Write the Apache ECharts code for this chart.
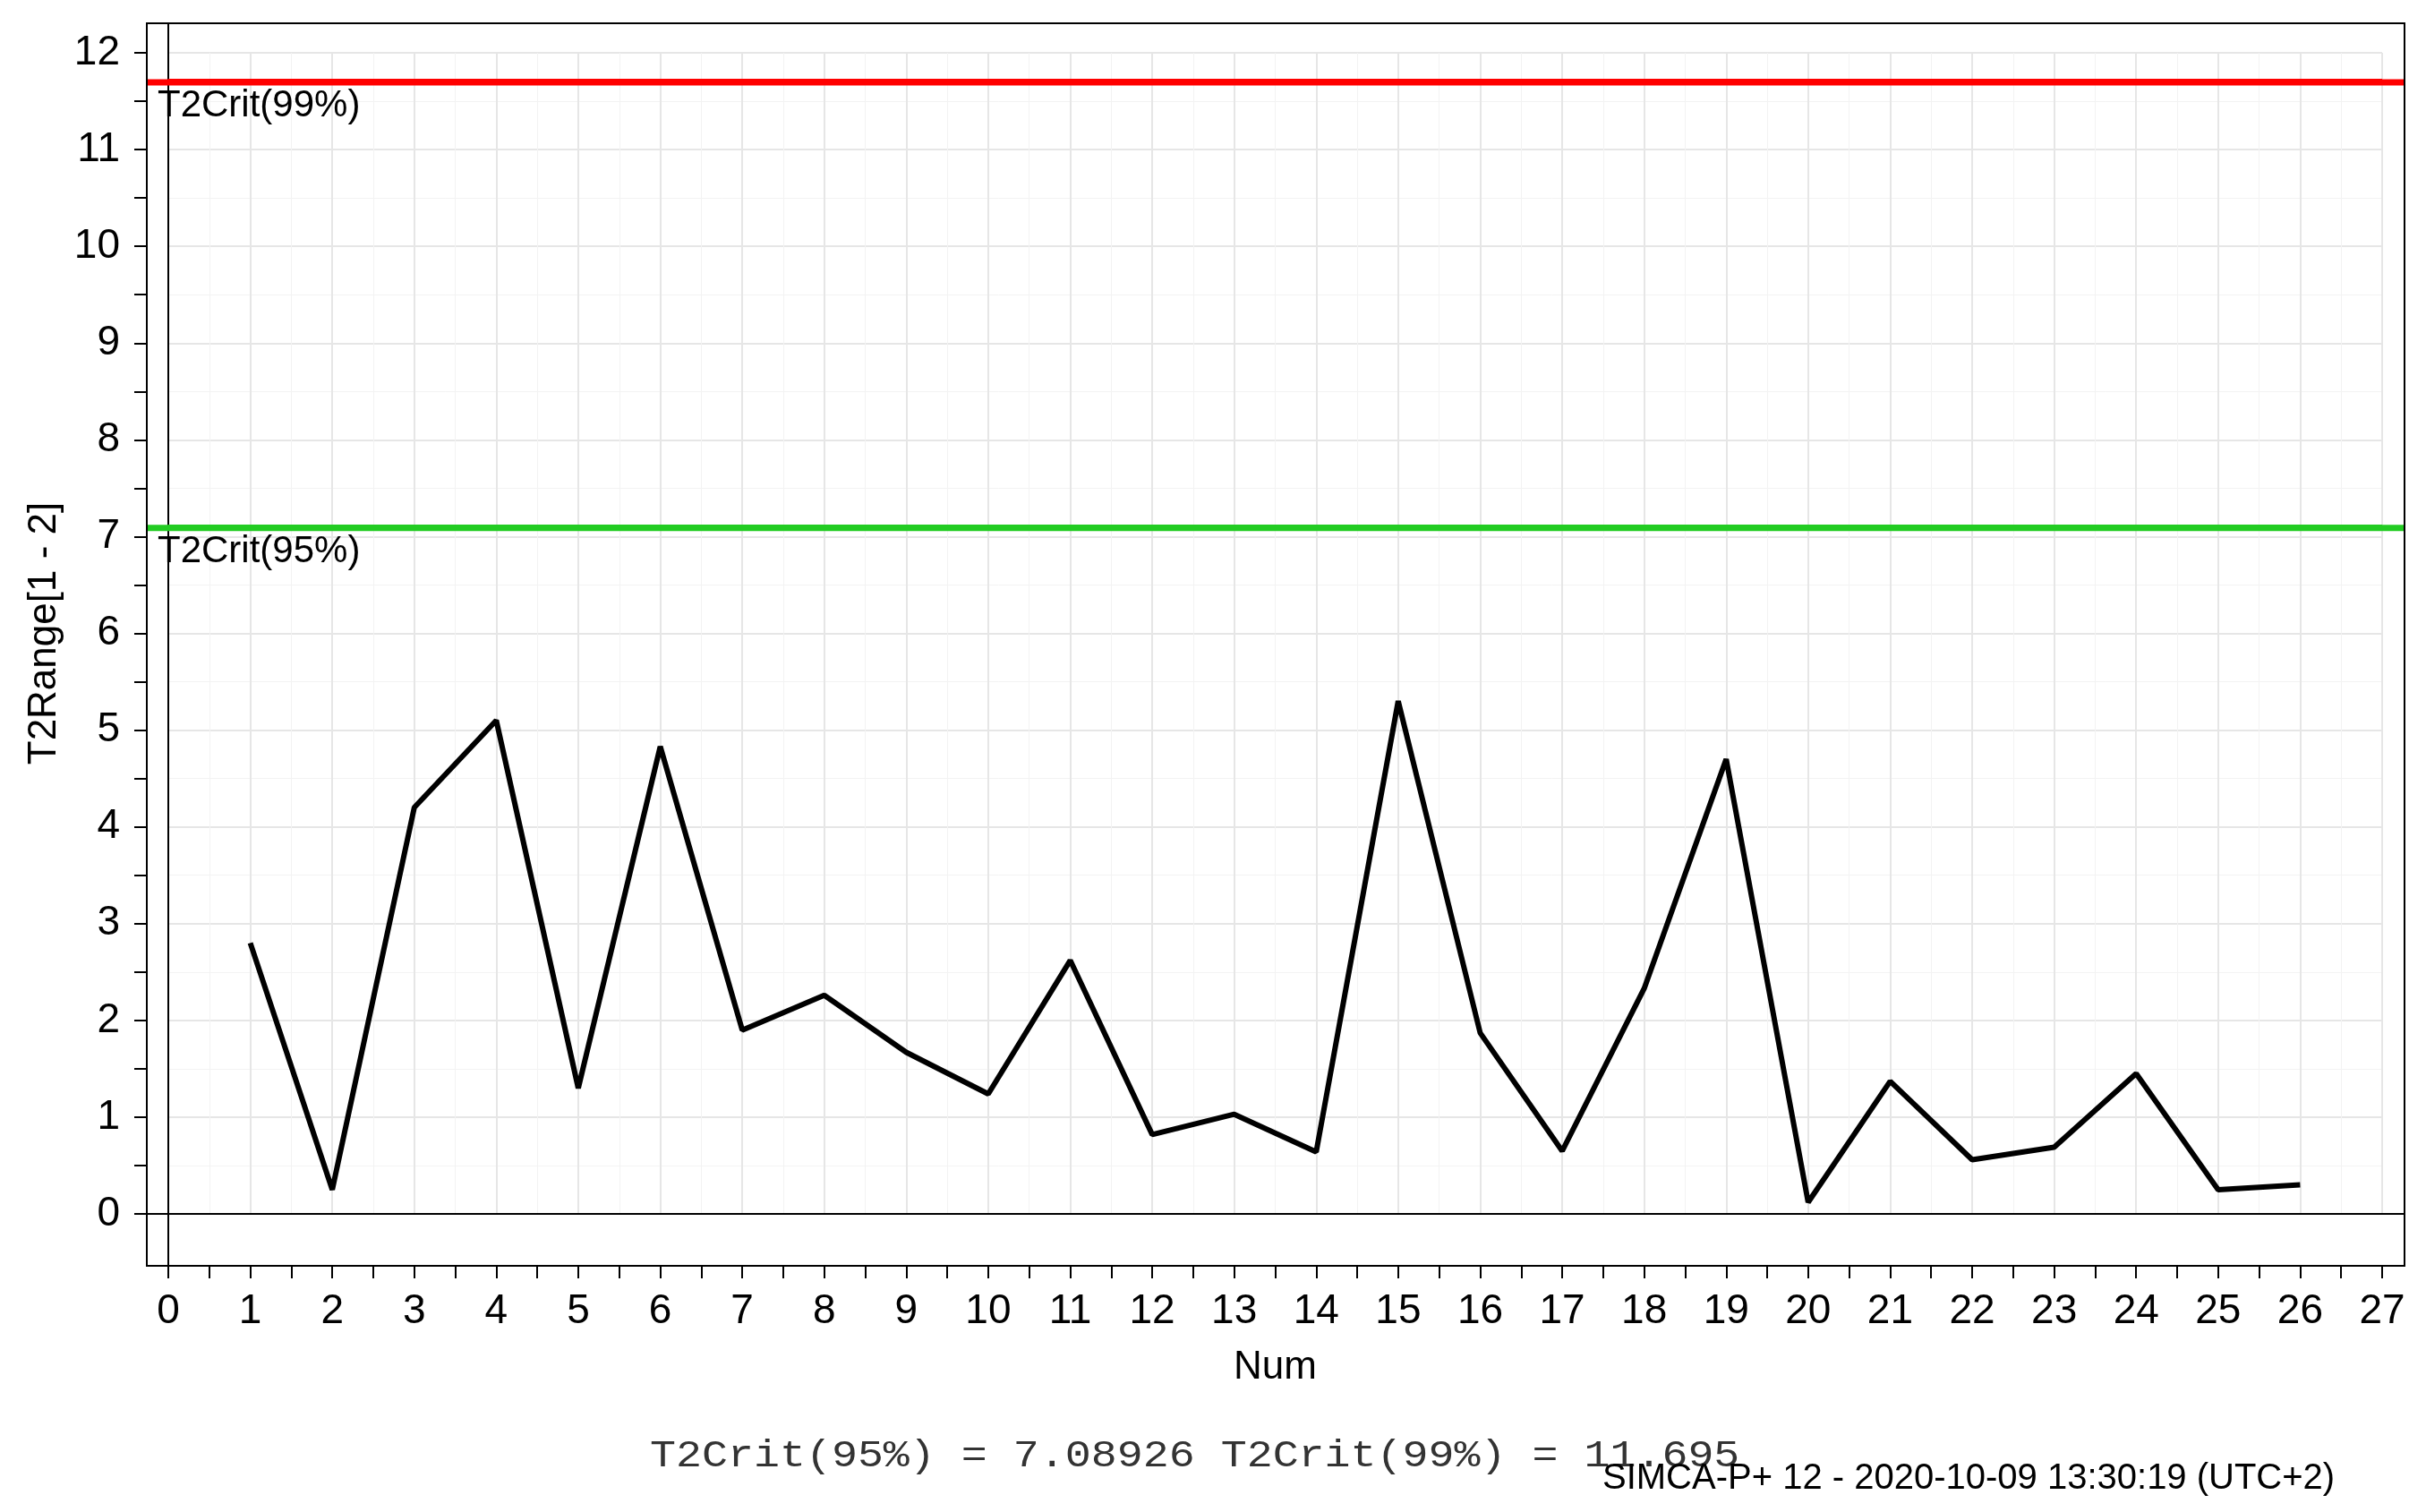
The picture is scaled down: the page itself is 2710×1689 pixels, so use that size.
<!DOCTYPE html>
<html><head><meta charset="utf-8">
<script src="https://cdn.jsdelivr.net/npm/echarts@6/dist/echarts.min.js"></script>
<style>html,body{margin:0;padding:0;background:#fff}#c{width:2710px;height:1689px}</style>
</head><body><div id="c"></div>
<script>
const nums = [1,2,3,4,5,6,7,8,9,10,11,12,13,14,15,16,17,18,19,20,21,22,23,24,25,26];
const t2range = [2.8,0.25,4.2,5.1,1.3,4.83,1.9,2.26,1.67,1.24,2.62,0.82,1.03,0.64,5.3,1.87,0.65,2.33,4.7,0.12,1.37,0.56,0.69,1.45,0.25,0.3];
const crit95 = 7.08926;
const crit99 = 11.695;
const footText = 'T2Crit(95%) = 7.08926 T2Crit(99%) = 11.695';
const stampText = 'SIMCA-P+ 12 - 2020-10-09 13:30:19 (UTC+2)';

const chart = echarts.init(document.getElementById('c'));
const F = 'Liberation Sans, Arial, sans-serif';
chart.setOption({
  animation:false,
  backgroundColor:'#fff',
  grid:{left:188,right:49,top:59,bottom:333,containLabel:false},
  xAxis:{type:'value',min:0,max:27,interval:1,offset:58,
    name:'Num',nameLocation:'middle',nameGap:92,nameTextStyle:{fontFamily:F,fontSize:44,color:'#000'},
    axisLine:{show:true,onZero:false,lineStyle:{color:'#000',width:2}},
    axisTick:{show:true,inside:false,length:14,lineStyle:{color:'#000',width:2}},
    minorTick:{show:true,splitNumber:2,length:14,lineStyle:{color:'#000',width:2}},
    axisLabel:{fontFamily:F,fontSize:46,color:'#000',margin:28},
    splitLine:{show:true,lineStyle:{color:'#e6e6e6',width:2}},
    minorSplitLine:{show:true,lineStyle:{color:'#f3f3f3',width:1}}
  },
  yAxis:{type:'value',min:0,max:12,interval:1,offset:24,
    name:'T2Range[1 - 2]',nameLocation:'middle',nameGap:86,nameRotate:90,nameTextStyle:{fontFamily:F,fontSize:44,color:'#000'},
    axisLine:{show:true,onZero:false,lineStyle:{color:'#000',width:2}},
    axisTick:{show:true,length:14,lineStyle:{color:'#000',width:2}},
    minorTick:{show:true,splitNumber:2,length:14,lineStyle:{color:'#000',width:2}},
    axisLabel:{fontFamily:F,fontSize:46,color:'#000',margin:30},
    splitLine:{show:true,lineStyle:{color:'#e6e6e6',width:2}},
    minorSplitLine:{show:true,lineStyle:{color:'#f3f3f3',width:1}}
  },
  graphic:[
    {type:'rect',shape:{x:164,y:26,width:2522,height:1388},style:{fill:'none',stroke:'#000',lineWidth:2},z:100,silent:true},
    {type:'line',shape:{x1:164,y1:1356,x2:2686,y2:1356},style:{stroke:'#000',lineWidth:2},z:1},
    {type:'line',shape:{x1:188,y1:26,x2:188,y2:1414},style:{stroke:'#000',lineWidth:2},z:1},
    {type:'text',left:726,top:1606,scaleX:1.15,style:{text:footText,font:'300 42px "Liberation Mono", monospace',fill:'#333'},z:5},
    {type:'text',left:1790,top:1632,style:{text:stampText,font:'40px "Liberation Sans Narrow", "Liberation Sans", sans-serif',fill:'#000'},z:6}
  ],
  series:[{
    type:'line',data:nums.map((n,i)=>[n,t2range[i]]),showSymbol:false,
    lineStyle:{color:'#000',width:6},z:10,clip:false,
    markLine:{silent:true,symbol:'none',
      data:[
        {yAxis:crit99,lineStyle:{color:'#ff0000',width:7,type:'solid'},label:{formatter:'T2Crit(99%)'}},
        {yAxis:crit95,lineStyle:{color:'#22cc22',width:7,type:'solid'},label:{formatter:'T2Crit(95%)'}}
      ],
      label:{show:true,position:'insideStartBottom',distance:[-12,6],fontFamily:F,fontSize:42,color:'#000'}
    }
  }]
});
const p99 = chart.convertToPixel({gridIndex:0},[0,crit99])[1];
const p95 = chart.convertToPixel({gridIndex:0},[0,crit95])[1];
chart.setOption({graphic:[
  {id:'l99',type:'line',shape:{x1:164,y1:p99,x2:2686,y2:p99},style:{stroke:'#ff0000',lineWidth:7},z:50},
  {id:'l95',type:'line',shape:{x1:164,y1:p95,x2:2686,y2:p95},style:{stroke:'#22cc22',lineWidth:7},z:50}
]});
</script></body></html>
